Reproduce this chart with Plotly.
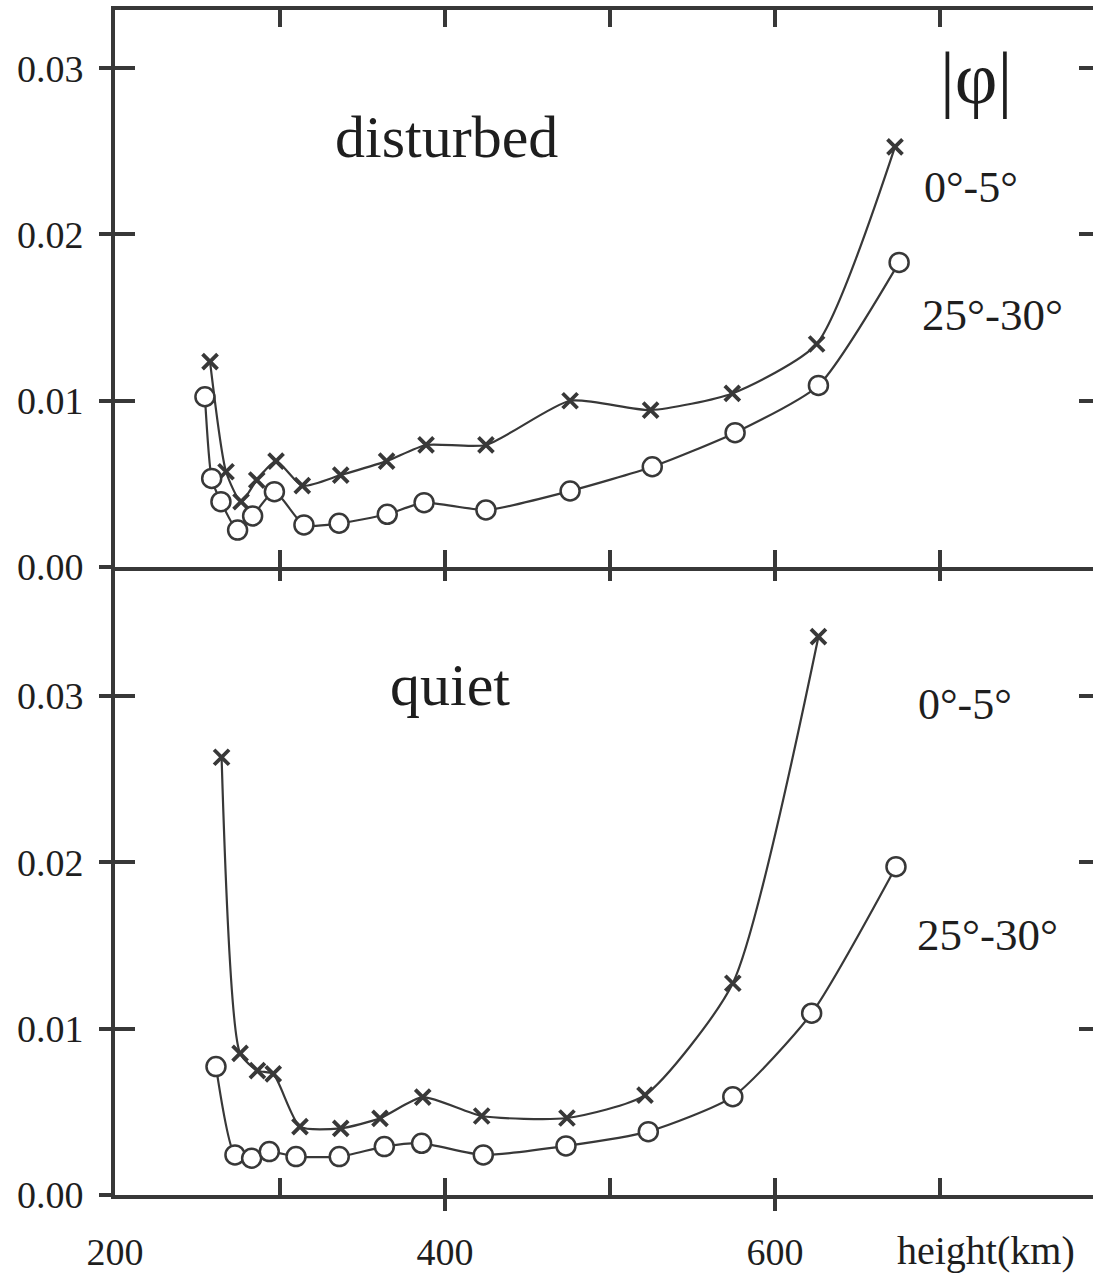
import plotly.graph_objects as go

# ---- data (height in km, value) ----
dist_eq_x = [257.6, 267.3, 276.4, 285.9, 297.6, 313.5, 336.8, 364.6, 388.5, 424.8, 475.8, 524.6, 574.1, 625.2, 672.7]
dist_eq_y = [0.01235, 0.00573, 0.00393, 0.00523, 0.00637, 0.00489, 0.00553, 0.00637, 0.00734, 0.00734, 0.0100, 0.00944, 0.01044, 0.01341, 0.02527]

dist_mid_x = [254.5, 258.6, 264.2, 274.3, 283.4, 296.6, 314.5, 335.8, 365.0, 387.3, 424.8, 475.8, 525.6, 575.8, 626.3, 675.2]
dist_mid_y = [0.01024, 0.00533, 0.00393, 0.00222, 0.00307, 0.00453, 0.00253, 0.00263, 0.00317, 0.00387, 0.00343, 0.00457, 0.00603, 0.00808, 0.01092, 0.01832]

quiet_eq_x = [264.6, 275.8, 286.3, 295.9, 312.1, 336.8, 360.6, 386.5, 422.2, 473.9, 521.2, 574.4, 626.3]
quiet_eq_y = [0.02632, 0.00852, 0.00748, 0.00728, 0.00411, 0.00401, 0.00461, 0.00588, 0.00475, 0.00463, 0.00601, 0.01273, 0.03357]

quiet_mid_x = [261.2, 272.7, 282.8, 293.5, 309.7, 335.9, 363.2, 385.8, 423.2, 473.3, 523.2, 574.4, 622.2, 673.3]
quiet_mid_y = [0.00772, 0.00241, 0.00221, 0.00261, 0.00231, 0.00231, 0.00291, 0.00311, 0.00241, 0.00295, 0.00381, 0.00591, 0.01093, 0.01974]

x_range = [200, 792.7]
top_range = [0, 0.0335]
bot_range = [0, 0.03776]
y_ticks = [0.0, 0.01, 0.02, 0.03]
x_ticks = [200, 300, 400, 500, 600, 700]
x_ticktext = ["200", "", "400", "", "600", ""]

INK = "#383838"
TXT = "#1e1e1e"
FONT = "Liberation Serif"

fig = go.Figure()

def add_series(x, y, yaxis, xaxis, symbol):
    if symbol == "circle":
        marker = dict(symbol="circle", size=19, color="white", line=dict(color=INK, width=2.5))
    else:
        marker = dict(symbol="x-thin", size=15, color=INK, line=dict(color=INK, width=3.8))
    fig.add_trace(go.Scatter(
        x=x, y=y, xaxis=xaxis, yaxis=yaxis, mode="lines+markers",
        line=dict(color=INK, width=2.2, shape="spline", smoothing=0.6),
        marker=marker, showlegend=False, hoverinfo="x+y"))

add_series(dist_eq_x, dist_eq_y, "y2", "x2", "x")
add_series(dist_mid_x, dist_mid_y, "y2", "x2", "circle")
add_series(quiet_eq_x, quiet_eq_y, "y", "x", "x")
add_series(quiet_mid_x, quiet_mid_y, "y", "x", "circle")

# invisible traces to register overlay axes
for xa, ya in [("x3", "y"), ("x4", "y"), ("x", "y3"), ("x", "y4"), ("x2", "y5"), ("x2", "y6")]:
    fig.add_trace(go.Scatter(x=[None], y=[None], xaxis=xa, yaxis=ya, showlegend=False, hoverinfo="skip"))

split = (1195 - 567) / 1185.0
tickfont = dict(family=FONT, size=38, color=TXT)

tick_style = dict(tickcolor=INK, tickwidth=3.5, showgrid=False, zeroline=False)

fig.update_layout(
    width=1093, height=1277,
    margin=dict(l=115, r=0, t=10, b=82),
    paper_bgcolor="white", plot_bgcolor="white",
    # bottom panel x axis (labels + inside ticks)
    xaxis=dict(range=x_range, anchor="y", domain=[0, 1], showline=True, linecolor=INK, linewidth=4,
               ticks="inside", ticklen=17, tickvals=x_ticks, ticktext=x_ticktext,
               showticklabels=True, tickfont=tickfont, ticklabelstandoff=20, **tick_style),
    # top panel x axis: line at middle + top frame, inside ticks both
    xaxis2=dict(range=x_range, anchor="y2", domain=[0, 1], matches="x", showline=True,
                linecolor=INK, linewidth=4, ticks="inside", ticklen=17, tickvals=x_ticks,
                mirror="ticks", showticklabels=False, **tick_style),
    # outside extension of labelled ticks
    xaxis3=dict(range=x_range, overlaying="x", anchor="y", side="bottom", showline=False,
                ticks="outside", ticklen=15, tickvals=[400, 600], showticklabels=False, **tick_style),
    # downward ticks below the middle line
    xaxis4=dict(range=x_range, overlaying="x", anchor="y", side="top", showline=False,
                ticks="inside", ticklen=14, tickvals=x_ticks, showticklabels=False, **tick_style),
    yaxis=dict(range=bot_range, domain=[0, split], anchor="x", showline=True, linecolor=INK,
               linewidth=4, ticks="outside", ticklen=12, tickvals=y_ticks, tickformat=".2f",
               tickfont=tickfont, ticklabelstandoff=8, **tick_style),
    yaxis3=dict(range=bot_range, overlaying="y", side="left", anchor="x", showline=False,
                ticks="inside", ticklen=20, tickvals=y_ticks[1:], showticklabels=False, **tick_style),
    yaxis4=dict(range=bot_range, overlaying="y", side="right", anchor="x", showline=False,
                ticks="inside", ticklen=14, tickvals=y_ticks[1:], showticklabels=False, **tick_style),
    yaxis2=dict(range=top_range, domain=[split, 1], anchor="x2", showline=True, linecolor=INK,
                linewidth=4, ticks="outside", ticklen=12, tickvals=y_ticks, tickformat=".2f",
                tickfont=tickfont, ticklabelstandoff=8, **tick_style),
    yaxis5=dict(range=top_range, overlaying="y2", side="left", anchor="x2", showline=False,
                ticks="inside", ticklen=20, tickvals=y_ticks[1:], showticklabels=False, **tick_style),
    yaxis6=dict(range=top_range, overlaying="y2", side="right", anchor="x2", showline=False,
                ticks="inside", ticklen=14, tickvals=y_ticks[1:], showticklabels=False, **tick_style),
)

def px_to_paper(px, py):
    return (px - 115) / 978.0, (1195 - py) / 1185.0

labels = [
    ("disturbed", 446, 137, 60),
    ("|φ|", 976, 78, 74),
    ("0°-5°", 971, 187, 44),
    ("25°-30°", 992, 315, 45),
    ("quiet", 450, 685, 60),
    ("0°-5°", 965, 704, 44),
    ("25°-30°", 987, 935, 45),
    ("height(km)", 986, 1250, 40),
]
for text, px, py, size in labels:
    xp, yp = px_to_paper(px, py)
    fig.add_annotation(text=text, x=xp, y=yp, xref="paper", yref="paper",
                       showarrow=False, xanchor="center", yanchor="middle",
                       font=dict(family=FONT, size=size, color=TXT))

fig.write_html("out.html")
